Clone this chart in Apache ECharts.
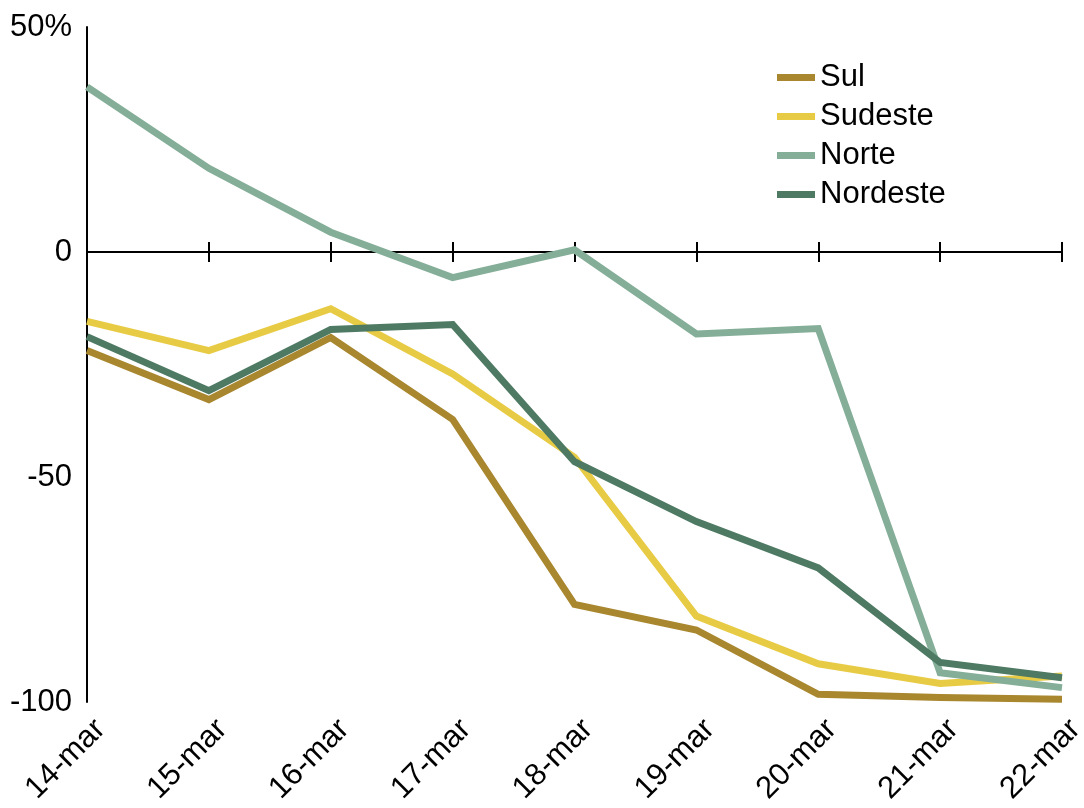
<!DOCTYPE html>
<html>
<head>
<meta charset="utf-8">
<title>Variação por região</title>
<script src="https://cdn.jsdelivr.net/npm/echarts@6/dist/echarts.min.js"></script>
<style>
  html, body { margin: 0; padding: 0; background: #ffffff; }
  #chart { width: 1084px; height: 808px; }
</style>
</head>
<body>
<div id="chart"></div>
<script>
// Dias de março
const categories = ['14-mar', '15-mar', '16-mar', '17-mar', '18-mar', '19-mar', '20-mar', '21-mar', '22-mar'];

// Variação percentual por região
const sul      = [-21.9, -32.8, -19.0, -37.2, -78.3, -84.0, -98.3, -99.0, -99.4];
const sudeste  = [-15.4, -21.9, -12.6, -27.1, -45.6, -80.9, -91.5, -95.9, -94.2];
const norte    = [36.7, 18.6, 4.4, -5.7, 0.5, -18.2, -17.0, -93.5, -96.8];
const nordeste = [-18.8, -30.8, -17.2, -16.1, -46.6, -59.9, -70.2, -91.2, -94.6];

// Rótulos do eixo vertical
const yTicks = { '50': '50%', '0': '0', '-50': '-50', '-100': '-100' };

const FONT = "'Liberation Sans', Arial, sans-serif";
const colors = { Sul: '#a8872f', Sudeste: '#e8cb45', Norte: '#84ae98', Nordeste: '#4e7a63' };

const chart = echarts.init(document.getElementById('chart'), null, { renderer: 'canvas' });

function lineSeries(name, data) {
  return {
    name: name,
    type: 'line',
    xAxisIndex: 0,
    yAxisIndex: 0,
    data: data,
    symbol: 'none',
    smooth: false,
    lineStyle: { width: 7, color: colors[name], cap: 'butt', join: 'miter' },
    itemStyle: { color: colors[name] },
    emphasis: { disabled: true }
  };
}

const option = {
  animation: false,
  backgroundColor: '#ffffff',
  textStyle: { fontFamily: FONT },
  grid: { left: 87, right: 22, top: 27, bottom: 106, containLabel: false, outerBoundsMode: 'none' },
  legend: {
    orient: 'vertical',
    left: 777,
    top: 62,
    padding: 0,
    icon: 'rect',
    itemWidth: 38,
    itemHeight: 7,
    itemGap: 8,
    textStyle: { fontFamily: FONT, fontSize: 31, color: '#000', lineHeight: 31 },
    data: ['Sul', 'Sudeste', 'Norte', 'Nordeste']
  },
  xAxis: [
    {
      // rótulos das datas na base do gráfico
      type: 'category',
      data: categories,
      boundaryGap: false,
      position: 'bottom',
      axisLine: { show: false, onZero: false },
      axisTick: { show: false },
      splitLine: { show: false },
      axisLabel: {
        rotate: 45,
        margin: 9,
        verticalAlign: 'top',
        lineHeight: 38,
        fontFamily: FONT,
        fontSize: 31,
        color: '#000',
        interval: 0
      }
    },
    {
      // linha do zero com marcas para baixo
      type: 'category',
      data: categories,
      boundaryGap: false,
      position: 'bottom',
      axisLine: { show: true, onZero: true, onZeroAxisIndex: 0, lineStyle: { color: '#000', width: 2 } },
      axisTick: { show: true, inside: false, length: 10, interval: 0, lineStyle: { color: '#000', width: 2 } },
      axisLabel: { show: false },
      splitLine: { show: false }
    },
    {
      // marcas para cima na linha do zero
      type: 'category',
      data: categories,
      boundaryGap: false,
      position: 'bottom',
      axisLine: { show: false, onZero: true, onZeroAxisIndex: 0 },
      axisTick: { show: true, inside: true, length: 10, interval: 0, lineStyle: { color: '#000', width: 2 } },
      axisLabel: { show: false },
      splitLine: { show: false }
    }
  ],
  yAxis: [
    {
      type: 'value',
      min: -100,
      max: 50,
      interval: 50,
      axisLine: { show: true, onZero: false, lineStyle: { color: '#000', width: 2 } },
      axisTick: { show: false },
      splitLine: { show: false },
      axisLabel: {
        margin: 15,
        fontFamily: FONT,
        fontSize: 31,
        color: '#000',
        formatter: function (v) { return yTicks[String(v)] !== undefined ? yTicks[String(v)] : ''; }
      }
    }
  ],
  series: [
    lineSeries('Sul', sul),
    lineSeries('Sudeste', sudeste),
    lineSeries('Norte', norte),
    lineSeries('Nordeste', nordeste)
  ]
};

chart.setOption(option);
</script>
</body>
</html>
